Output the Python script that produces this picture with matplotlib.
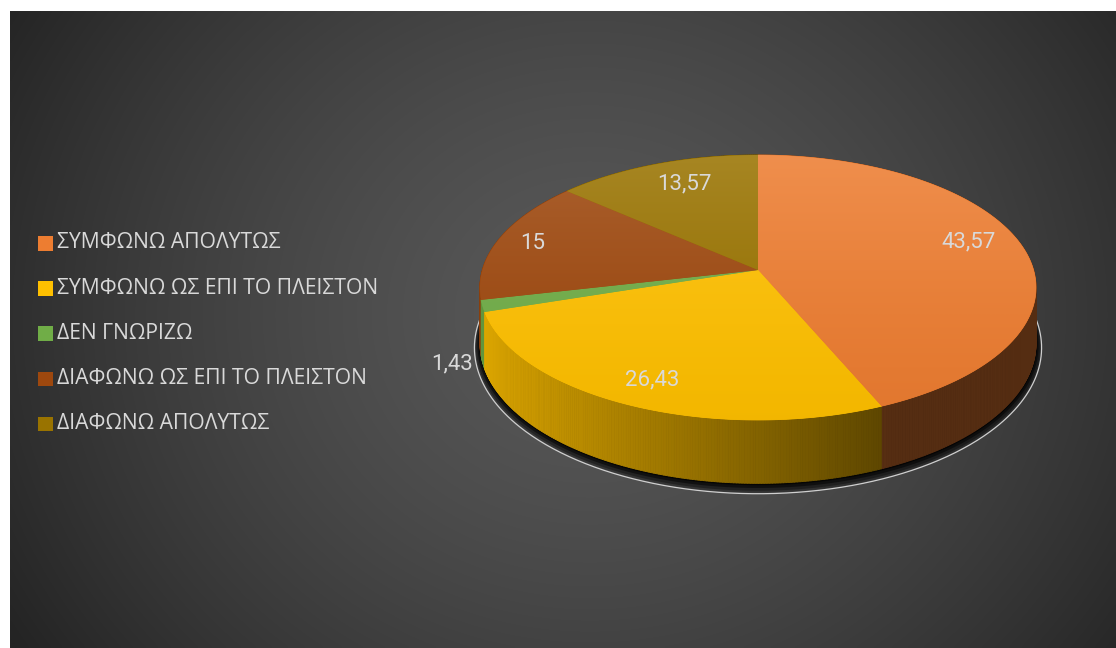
import numpy as np
import matplotlib
matplotlib.use("Agg")
import matplotlib.pyplot as plt
from matplotlib.patches import Polygon, Rectangle
from matplotlib.collections import PolyCollection
from matplotlib.colors import to_rgb

# ---- data -------------------------------------------------------------
categories = [
    "ΣΥΜΦΩΝΩ ΑΠΟΛΥΤΩΣ",
    "ΣΥΜΦΩΝΩ ΩΣ ΕΠΙ ΤΟ ΠΛΕΙΣΤΟΝ",
    "ΔΕΝ ΓΝΩΡΙΖΩ",
    "ΔΙΑΦΩΝΩ ΩΣ ΕΠΙ ΤΟ ΠΛΕΙΣΤΟΝ",
    "ΔΙΑΦΩΝΩ ΑΠΟΛΥΤΩΣ",
]
values = [43.57, 26.43, 1.43, 15.0, 13.57]
value_labels = ["43,57", "26,43", "1,43", "15", "13,57"]
colors = ["#ED7D31", "#FFC000", "#70AD47", "#9E480E", "#997300"]

# ---- canvas -----------------------------------------------------------
W, H_PX = 1116, 648
fig = plt.figure(figsize=(W / 100, H_PX / 100), dpi=100, facecolor="white")
ax = fig.add_axes([0, 0, 1, 1])
ax.set_xlim(0, W)
ax.set_ylim(H_PX, 0)
ax.axis("off")

# radial background
gx0, gx1, gy0, gy1 = 10, W, 11, H_PX
ny, nx = 200, 340
yy, xx = np.mgrid[0:ny, 0:nx]
px = gx0 + (xx + 0.5) / nx * (gx1 - gx0)
py = gy0 + (yy + 0.5) / ny * (gy1 - gy0)
r = np.hypot((px - 590) / 1.0, (py - 315) / 0.9)
r = np.clip(r / 680.0, 0, 1)
val = (88 - 52 * r ** 1.45) / 255.0
bg = np.dstack([val, val, val])
ax.imshow(bg, extent=(gx0, gx1, gy1, gy0), origin="upper",
          interpolation="bilinear", zorder=0, aspect="auto")

# ---- 3D pie geometry --------------------------------------------------
CX, CY = 758.0, 270.0     # apex of the pie on screen
RX, RY = 275.6, 130.2     # radii of the top disc
K = 0.132                 # perspective strength
DEPTH = 55.0              # thickness of the pie


def proj(theta_deg, depth=0.0, grow=0.0, frac=1.0):
    t = np.radians(theta_deg)
    u, v = np.sin(t), -np.cos(t)
    s = 1.0 / (1.0 - K * v)
    x = CX + (RX + grow) * u * s * frac
    y = CY + (RY + grow) * v * s * frac + depth * s
    return x, y


total = sum(values)
bounds = np.concatenate([[0], np.cumsum(values) / total * 360.0])

# shadow and rim line under the pie
full = np.linspace(0, 360, 721)
for grow, a in [(6, 0.12), (5, 0.22), (4, 0.35), (2.5, 0.5), (1, 0.65)]:
    sx, sy = proj(full, DEPTH + grow * 0.6, grow)
    ax.add_patch(Polygon(np.column_stack([sx, sy]), closed=True,
                         facecolor="black", edgecolor="none", alpha=a, zorder=1))
lx, ly = proj(full, DEPTH + 3.5, 5.5)
ax.plot(lx, ly, color="#cfcfcf", lw=0.9, zorder=1.5)

# side wall, drawn as thin strips from back to front
strips, scols, depths = [], [], []
for i, c in enumerate(colors):
    base = np.array(to_rgb(c))
    a0, a1 = bounds[i], bounds[i + 1]
    n = max(2, int((a1 - a0) / 0.5))
    th = np.linspace(a0, a1, n + 1)
    for j in range(n):
        t0, t1 = th[j], th[j + 1]
        x0, y0 = proj(t0)
        x1, y1 = proj(t1)
        x0b, y0b = proj(t0, DEPTH)
        x1b, y1b = proj(t1, DEPTH)
        tm = np.radians(0.5 * (t0 + t1))
        u = np.sin(tm)
        f = max(0.36, 0.514 - 0.366 * u)
        strips.append([(x0, y0), (x1, y1), (x1b, y1b), (x0b, y0b)])
        scols.append(np.clip(base * f, 0, 1))
        depths.append(-np.cos(tm))
order = np.argsort(depths)
pc = PolyCollection([strips[k] for k in order],
                    facecolors=[scols[k] for k in order],
                    edgecolors=[scols[k] for k in order],
                    linewidths=0.6, zorder=2)
ax.add_collection(pc)

# top face with a soft vertical gradient per slice
gy_top, gy_bot = 150.0, 430.0
tgrad = np.linspace(0, 1, 256)[:, None]
for i, c in enumerate(colors):
    base = np.array(to_rgb(c))
    a0, a1 = bounds[i], bounds[i + 1]
    th = np.linspace(a0, a1, max(3, int((a1 - a0) * 2)))
    ex, ey = proj(th)
    verts = np.vstack([[CX, CY], np.column_stack([ex, ey])])
    poly = Polygon(verts, closed=True, facecolor=c, edgecolor=c, lw=0.5, zorder=3)
    ax.add_patch(poly)
    light = 0.14 * (1 - tgrad) ** 1.5
    shade = 1 - 0.05 * tgrad
    img = (base[None, :] * (1 - light) + light) * shade
    img = np.repeat(img[:, None, :], 2, axis=1)
    im = ax.imshow(np.clip(img, 0, 1), extent=(460, 1060, gy_bot, gy_top),
                   origin="upper", interpolation="bilinear", zorder=3.1,
                   aspect="auto")
    im.set_clip_path(poly)

# data labels
label_frac = [0.80, 0.82, 1.11, 0.87, 0.72]
label_dy = [-8, -1, 54, 0, -10]
for i, txt in enumerate(value_labels):
    mid = 0.5 * (bounds[i] + bounds[i + 1])
    x, y = proj(mid, frac=label_frac[i])
    ax.text(x, y + label_dy[i], txt, color="#d9d9d9", fontsize=16,
            family="Roboto", ha="center", va="center", zorder=5)

# legend
for i, (name, c) in enumerate(zip(categories, colors)):
    yc = 243 + i * 45.2
    ax.add_patch(Rectangle((38, yc - 7), 14.5, 14.5, facecolor=c,
                           edgecolor="none", zorder=5))
    ax.text(57, yc, name, color="#d9d9d9", fontsize=15.2, family="Open Sans",
            ha="left", va="center", zorder=5)

fig.savefig("out.png", dpi=100, facecolor="white")
